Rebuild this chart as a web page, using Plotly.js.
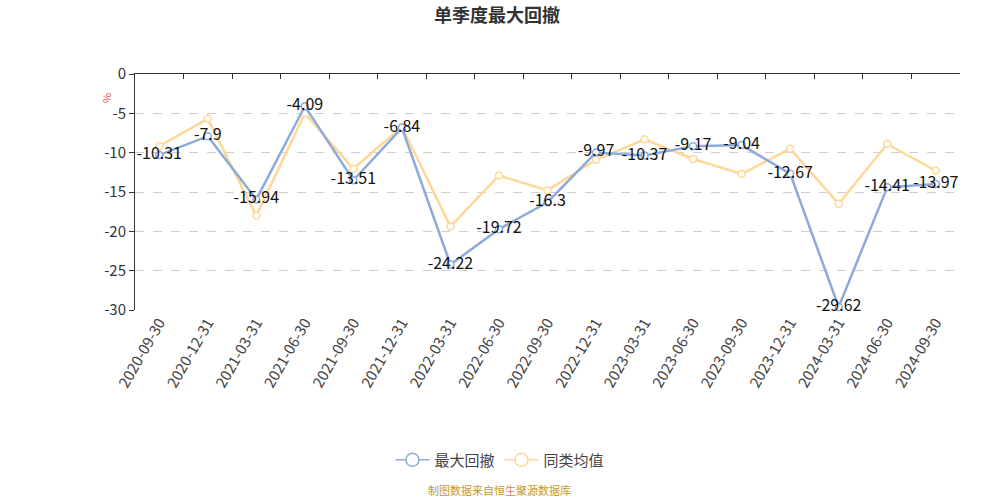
<!DOCTYPE html>
<html>
<head>
<meta charset="utf-8">
<script src="https://cdn.plot.ly/plotly-3.0.1.min.js"></script>
<style>html,body{margin:0;padding:0;background:#fff;}#chart{width:1000px;height:500px;}</style>
</head>
<body>
<div id="chart"></div>
<script>
const dates = ["2020-09-30","2020-12-31","2021-03-31","2021-06-30","2021-09-30","2021-12-31","2022-03-31","2022-06-30","2022-09-30","2022-12-31","2023-03-31","2023-06-30","2023-09-30","2023-12-31","2024-03-31","2024-06-30","2024-09-30"];
const maxDrawdown = [-10.31,-7.9,-15.94,-4.09,-13.51,-6.84,-24.22,-19.72,-16.3,-9.97,-10.37,-9.17,-9.04,-12.67,-29.62,-14.41,-13.97];
const peerAvg = [-9.15,-5.7,-18.0,-5.0,-12.05,-6.7,-19.4,-12.9,-14.8,-10.9,-8.3,-10.8,-12.7,-9.5,-16.5,-8.9,-12.3];
const seriesNames = ["最大回撤","同类均值"];
const titleText = "单季度最大回撤";
const footerText = "制图数据来自恒生聚源数据库";
const yTicks = [0,-5,-10,-15,-20,-25,-30];

const FONT = "'Noto Sans CJK SC', 'Noto Sans', sans-serif";
const blue = "#8eaadb";
const yellow = "#ffd797";

const traces = [
  {
    x: dates, y: peerAvg, name: seriesNames[1], type: "scatter", mode: "lines+markers",
    line: {color: yellow, width: 2.5},
    marker: {symbol: "circle", size: 7, color: "#ffffff", line: {color: yellow, width: 1.5}},
    xaxis: "x", yaxis: "y", showlegend: false, cliponaxis: false
  },
  {
    x: dates, y: maxDrawdown, name: seriesNames[0], type: "scatter", mode: "lines+markers+text",
    text: maxDrawdown.map(String), textposition: "middle center",
    textfont: {family: FONT, size: 16, color: "#111"},
    line: {color: blue, width: 2.5},
    marker: {symbol: "circle", size: 7, color: "#ffffff", line: {color: blue, width: 1.5}},
    xaxis: "x", yaxis: "y", showlegend: false, cliponaxis: false
  },
  {
    x: dates, y: maxDrawdown.map(() => null), name: seriesNames[0], type: "scatter", mode: "lines+markers",
    line: {color: blue, width: 1.5},
    marker: {symbol: "circle", size: 13, color: "#ffffff", line: {color: blue, width: 1.5}},
    xaxis: "x", yaxis: "y", hoverinfo: "skip"
  },
  {
    x: dates, y: peerAvg.map(() => null), name: seriesNames[1], type: "scatter", mode: "lines+markers",
    line: {color: yellow, width: 1.5},
    marker: {symbol: "circle", size: 13, color: "#ffffff", line: {color: yellow, width: 1.5}},
    xaxis: "x", yaxis: "y", hoverinfo: "skip"
  },
  {
    x: dates, y: maxDrawdown.map(() => null), type: "scatter", mode: "lines",
    showlegend: false, hoverinfo: "skip", xaxis: "x2", yaxis: "y"
  }
];

const layout = {
  width: 1000, height: 500,
  margin: {l: 135, r: 40, t: 74, b: 190},
  paper_bgcolor: "#fff", plot_bgcolor: "#fff",
  font: {family: FONT, color: "#333"},
  title: {text: "<b>" + titleText + "</b>", xref: "container", x: 0.497, xanchor: "center", yref: "container", y: 0.968, yanchor: "middle",
          font: {family: FONT, size: 18, color: "#333"}},
  xaxis: {
    type: "category", categoryorder: "array", categoryarray: dates,
    range: [-0.5, dates.length - 0.5],
    showline: false, showgrid: false, zeroline: false, ticks: "",
    tickangle: -60, tickfont: {family: FONT, size: 15, color: "#444"},
    fixedrange: true
  },
  xaxis2: {
    type: "category", categoryorder: "array", categoryarray: dates,
    range: [-0.5, dates.length - 0.5],
    overlaying: "x", side: "top", anchor: "y",
    showline: true, linecolor: "#333", linewidth: 1,
    ticks: "inside", ticklen: 5, tickcolor: "#333", tickson: "boundaries",
    showticklabels: false, showgrid: false, zeroline: false
  },
  yaxis: {
    range: [-30, 0], tickvals: yTicks, ticktext: yTicks.map(String),
    showline: true, linecolor: "#333", linewidth: 1,
    ticks: "outside", ticklen: 5, tickcolor: "#333",
    showgrid: true, gridcolor: "#cfcfcf", griddash: "dash", gridwidth: 1,
    zeroline: false, tickfont: {family: FONT, size: 15, color: "#333"}
  },
  showlegend: true,
  legend: {
    orientation: "h", x: 0.4424, xanchor: "center", y: -0.636, yanchor: "middle",
    font: {family: FONT, size: 15, color: "#444"},
    itemwidth: 34
  },
  annotations: [
    {text: "%", xref: "paper", yref: "paper", x: -0.048, y: 0.93, showarrow: false,
     textangle: -90, font: {family: FONT, size: 11, color: "#e8504a"}},
    {text: footerText, xref: "paper", yref: "paper", x: 0.4424, xanchor: "center",
     y: -0.762, yanchor: "middle", showarrow: false,
     font: {family: FONT, size: 11, color: "#c8962e"}}
  ]
};

Plotly.newPlot("chart", traces, layout, {displayModeBar: false, staticPlot: true});
</script>
</body>
</html>
